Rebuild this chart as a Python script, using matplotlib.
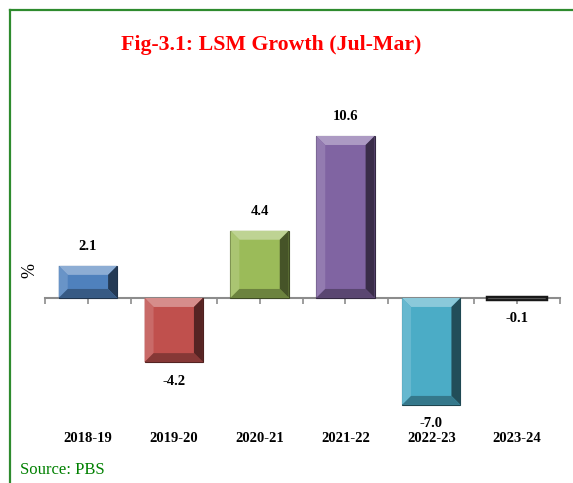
import matplotlib
matplotlib.use("Agg")
import matplotlib.pyplot as plt
import matplotlib.colors as mcolors
from matplotlib.patches import Polygon
from matplotlib.lines import Line2D
import matplotlib.transforms as mtransforms
import numpy as np

categories = ["2018-19", "2019-20", "2020-21", "2021-22", "2022-23", "2023-24"]
values = [2.1, -4.2, 4.4, 10.6, -7.0, -0.1]
bar_colors = ["#4f81bd", "#c0504d", "#9bbb59", "#8064a2", "#4bacc6", "#3a3a3a"]
title = "Fig-3.1: LSM Growth (Jul-Mar)"
source = "Source: PBS"

W, H = 573, 483
fig = plt.figure(figsize=(W / 100, H / 100), dpi=100)
fig.patch.set_facecolor("white")

ax = fig.add_axes([45 / W, 1 - 420.2 / H, 515 / W, 305.6 / H])
ax.set_xlim(-0.5, 5.5)
ax.set_ylim(-8, 12)
ax.set_facecolor("none")

x = np.arange(len(categories))
edge_cols = [tuple(np.array(mcolors.to_rgb(c)) * 0.4) for c in bar_colors]
edge_widths = [0.8 if abs(v) > 0.5 else 3.2 for v in values]
bars = ax.bar(x, values, width=0.68, color=bar_colors, edgecolor=edge_cols,
              linewidth=edge_widths, zorder=2)

fig.canvas.draw()
bevel_px = 9.0
inv = ax.transData.inverted()
for b, c in zip(bars, bar_colors):
    x0, y0 = b.get_x(), b.get_y()
    w, h = b.get_width(), b.get_height()
    x1, y1 = x0 + w, y0 + h
    ylo, yhi = min(y0, y1), max(y0, y1)
    p0 = ax.transData.transform((x0, ylo))
    p1 = ax.transData.transform((x1, yhi))
    bw = min(bevel_px, (p1[0] - p0[0]) / 2, (p1[1] - p0[1]) / 2)
    ix0, iylo = inv.transform((p0[0] + bw, p0[1] + bw))
    ix1, iyhi = inv.transform((p1[0] - bw, p1[1] - bw))
    base = np.array(mcolors.to_rgb(c))
    light = base + (1 - base) * 0.35
    dark = base * 0.45
    mid_dark = base * 0.7
    ax.add_patch(Polygon([(x0, yhi), (x1, yhi), (ix1, iyhi), (ix0, iyhi)],
                         closed=True, facecolor=light, edgecolor="none", zorder=3))
    ax.add_patch(Polygon([(x0, yhi), (ix0, iyhi), (ix0, iylo), (x0, ylo)],
                         closed=True, facecolor=base + (1 - base) * 0.15, edgecolor="none", zorder=3))
    ax.add_patch(Polygon([(x1, yhi), (ix1, iyhi), (ix1, iylo), (x1, ylo)],
                         closed=True, facecolor=dark, edgecolor="none", zorder=3))
    ax.add_patch(Polygon([(x0, ylo), (ix0, iylo), (ix1, iylo), (x1, ylo)],
                         closed=True, facecolor=mid_dark, edgecolor="none", zorder=3))

for xi, v in zip(x, values):
    if v >= 0:
        ax.annotate(f"{v:.1f}", (xi, v), xytext=(0, 9), textcoords="offset points",
                    ha="center", va="bottom", fontsize=10.5, fontweight="bold",
                    family="Liberation Serif", color="black")
    else:
        ax.annotate(f"{v:.1f}", (xi, v), xytext=(0, -9), textcoords="offset points",
                    ha="center", va="top", fontsize=10.5, fontweight="bold",
                    family="Liberation Serif", color="black")

for s in ["top", "right", "left"]:
    ax.spines[s].set_visible(False)
ax.spines["bottom"].set_position(("data", 0))
ax.spines["bottom"].set_color("#8c8c8c")
ax.spines["bottom"].set_linewidth(1.5)
ax.spines["bottom"].set_zorder(1)
ax.set_yticks([])
ax.set_xticks(x)
ax.set_xticklabels([""] * len(x))
ax.set_xticks(np.arange(-0.5, 5.51, 1.0), minor=True)
ax.tick_params(axis="x", which="both", direction="out", length=4, width=1.2, color="#8c8c8c")

trans = mtransforms.blended_transform_factory(ax.transData, ax.transAxes)
for xi, lab in zip(x, categories):
    ax.text(xi, -0.06, lab, transform=trans, ha="center", va="center",
            fontsize=10.5, fontweight="bold", family="Liberation Serif")

fig.text(30 / W, 1 - 270 / H, "%", rotation=90, ha="center", va="center",
         fontsize=13, family="Liberation Serif")

fig.text(271 / W, 1 - 45 / H, title, ha="center", va="center", color="#ff0000",
         fontsize=15.7, fontweight="bold", family="Liberation Serif")
fig.text(20 / W, 1 - 470 / H, source, ha="left", va="center", color="#008000",
         fontsize=12, family="Liberation Serif")

fig.add_artist(Line2D([9.5 / W, 9.5 / W], [0, 1 - 10 / H], transform=fig.transFigure,
                      color="#2e8b2e", linewidth=1.6))
fig.add_artist(Line2D([9.5 / W, 1.0], [1 - 10 / H, 1 - 10 / H], transform=fig.transFigure,
                      color="#2e8b2e", linewidth=1.6))

fig.savefig("out.png", dpi=100)
